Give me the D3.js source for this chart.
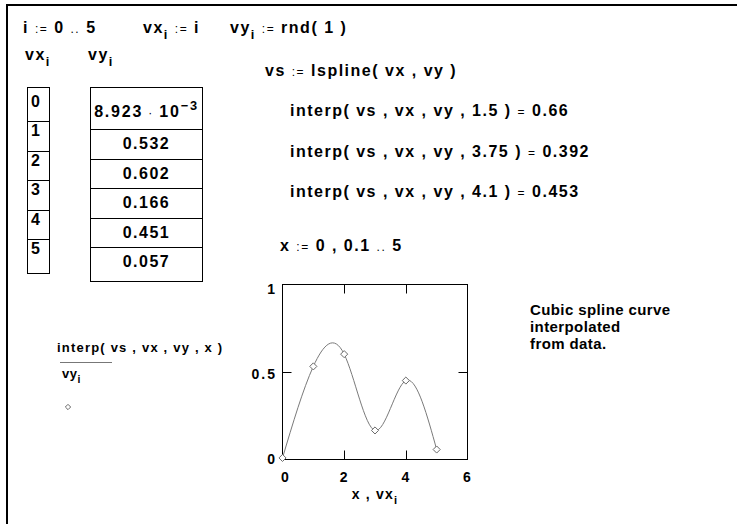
<!DOCTYPE html>
<html><head><meta charset="utf-8">
<script src="https://cdn.jsdelivr.net/npm/d3@7"></script>
<style>
html,body{margin:0;padding:0;background:#fff;}
svg text{font-family:"Liberation Sans",Arial,sans-serif;font-weight:bold;fill:#000;}
</style></head>
<body><svg id="c" width="737" height="524"></svg>
<script>
// ---- data ----
const vx = [0, 1, 2, 3, 4, 5];
const vy = [0.008923, 0.532, 0.602, 0.166, 0.451, 0.057];
const interpArgs = [1.5, 3.75, 4.1];
const interpResults = ["0.66", "0.392", "0.453"];
const xTicks = [0, 2, 4, 6];
const yTicks = [0, 0.5, 1];
const xDomain = [0, 6];
const yDomain = [0, 1];
const noteLines = ["Cubic spline curve", "interpolated", "from data."];

const svg = d3.select("#c");
svg.append("rect").attr("width", 737).attr("height", 524).attr("fill", "#fff");

// frame
svg.append("line").attr("x1", 7).attr("x2", 7).attr("y1", 4).attr("y2", 524).attr("stroke", "#000").attr("stroke-width", 2);
svg.append("line").attr("x1", 6).attr("x2", 737).attr("y1", 5).attr("y2", 5).attr("stroke", "#000").attr("stroke-width", 2);

function mtext(x, y, parts, size, ls) {
  const t = svg.append("text").attr("x", x).attr("y", y)
    .style("font-size", size + "px").style("letter-spacing", (ls == null ? 1.5 : ls) + "px");
  let shift = 0;
  parts.forEach(([s, k]) => {
    const sp = t.append("tspan").text(s);
    let target = 0;
    if (k === "s") { target = size * 0.35; sp.style("font-size", (size * 0.8) + "px"); }
    else if (k === "p") { target = -size * 0.45; sp.style("font-size", (size * 0.8) + "px"); }
    else if (k === "o") { sp.style("font-size", (size * 0.75) + "px").style("font-weight", "normal"); }
    if (target !== shift) { sp.attr("dy", target - shift); shift = target; }
  });
  return t;
}

const F = 16;
mtext(23, 33, [["i ", "n"], [":=", "o"], [" 0 ", "n"], ["..", "o"], [" 5", "n"]], F);
mtext(143, 33, [["vx", "n"], ["i", "s"], [" ", "n"], [":=", "o"], [" i", "n"]], F);
mtext(230, 33, [["vy", "n"], ["i", "s"], [" ", "n"], [":=", "o"], [" rnd( 1 )", "n"]], F);
mtext(25, 60, [["vx", "n"], ["i", "s"]], F);
mtext(88, 60, [["vy", "n"], ["i", "s"]], F);
mtext(265, 76, [["vs ", "n"], [":=", "o"], [" lspline( vx , vy )", "n"]], F);
interpArgs.forEach((a, i) => {
  mtext(290, 116 + i * 40.5, [["interp( vs , vx , vy , " + a + " ) ", "n"], ["=", "o"], ["  " + interpResults[i], "n"]], F);
});
mtext(280, 251, [["x ", "n"], [":=", "o"], [" 0 , 0.1 ", "n"], ["..", "o"], [" 5", "n"]], F);

function rowEdges(top, first, mid, last, n) {
  const e = [top];
  for (let i = 0; i < n; i++) e.push(e[i] + (i === 0 ? first : (i === n - 1 ? last : mid)));
  return e;
}
const vxE = rowEdges(87, 34, 29.5, 34, vx.length);
const vyE = rowEdges(87, 42, 29.5, 34, vy.length);
const tbl = svg.append("g").attr("stroke", "#000").attr("stroke-width", 1).attr("fill", "none");
tbl.append("rect").attr("x", 27.5).attr("y", vxE[0] + 0.5).attr("width", 22).attr("height", vxE[vx.length] - vxE[0]);
vxE.slice(1, -1).forEach(y => tbl.append("line").attr("x1", 27.5).attr("x2", 49.5).attr("y1", Math.round(y) + 0.5).attr("y2", Math.round(y) + 0.5));
tbl.append("rect").attr("x", 90.5).attr("y", vyE[0] + 0.5).attr("width", 112).attr("height", vyE[vy.length] - vyE[0]);
vyE.slice(1, -1).forEach(y => tbl.append("line").attr("x1", 90.5).attr("x2", 202.5).attr("y1", Math.round(y) + 0.5).attr("y2", Math.round(y) + 0.5));

vx.forEach((v, i) => {
  svg.append("text").attr("x", 31).attr("y", vxE[i] + (i === 0 ? 20 : 15))
    .style("font-size", F + "px").text(v);
});
vy.forEach((v, i) => {
  const y = vyE[i] + (i === 0 ? 30 : 20);
  if (v < 0.01) {
    const ex = Math.floor(Math.log10(v));
    const man = (v / Math.pow(10, ex)).toFixed(3);
    const t = mtext(146.5, y, [[man, "n"], [" · ", "o"], ["10", "n"], ["−" + (-ex), "p"]], F, 1.8);
    t.attr("text-anchor", "middle");
  } else {
    svg.append("text").attr("x", 146.5).attr("y", y).attr("text-anchor", "middle")
      .style("font-size", F + "px").style("letter-spacing", "1.5px").text(d3.format(".3f")(v));
  }
});

const x = d3.scaleLinear().domain(xDomain).range([282.5, 467.5]);
const y = d3.scaleLinear().domain(yDomain).range([459.5, 284.5]);
const pg = svg.append("g");
pg.append("rect").attr("x", x(0)).attr("y", y(1)).attr("width", x(6) - x(0)).attr("height", y(0) - y(1))
  .attr("fill", "none").attr("stroke", "#000").attr("stroke-width", 1);
const tl = 9;
xTicks.slice(1, -1).forEach(t => {
  pg.append("line").attr("x1", Math.round(x(t)) + 0.5).attr("x2", Math.round(x(t)) + 0.5).attr("y1", y(0)).attr("y2", y(0) - tl).attr("stroke", "#000");
  pg.append("line").attr("x1", Math.round(x(t)) + 0.5).attr("x2", Math.round(x(t)) + 0.5).attr("y1", y(1)).attr("y2", y(1) + tl).attr("stroke", "#000");
});
yTicks.slice(1, -1).forEach(t => {
  pg.append("line").attr("x1", x(0)).attr("x2", x(0) + tl).attr("y1", Math.round(y(t)) + 0.5).attr("y2", Math.round(y(t)) + 0.5).attr("stroke", "#000");
  pg.append("line").attr("x1", x(6)).attr("x2", x(6) - tl).attr("y1", Math.round(y(t)) + 0.5).attr("y2", Math.round(y(t)) + 0.5).attr("stroke", "#000");
});
xTicks.forEach(t => {
  svg.append("text").attr("x", x(t) + (t === 0 ? 3 : 0)).attr("y", 482).attr("text-anchor", "middle")
    .style("font-size", "14px").style("letter-spacing", "1px").text(t);
});
yTicks.forEach(t => {
  svg.append("text").attr("x", 277).attr("y", y(t) + 4 + 5 * t).attr("text-anchor", "end")
    .style("font-size", "14px").style("letter-spacing", "2px").text(t);
});
mtext(375, 499, [["x , vx", "n"], ["i", "s"]], 14, 1.2).attr("text-anchor", "middle");

const line = d3.line().x(d => x(d[0])).y(d => y(d[1])).curve(d3.curveNatural);
const pts = vx.map((v, i) => [v, vy[i]]);
pg.append("path").attr("d", line(pts)).attr("fill", "none").attr("stroke", "#7a7a7a").attr("stroke-width", 1);
const diamond = d3.symbol().type(d3.symbolDiamond2).size(32);
pg.selectAll(".m").data(pts).join("path")
  .attr("transform", d => `translate(${x(d[0])},${y(d[1])})`)
  .attr("d", diamond).attr("fill", "#fff").attr("stroke", "#6a6a6a").attr("stroke-width", 1);

mtext(57, 352, [["interp( vs , vx , vy , x )", "n"]], 13, 1.2);
svg.append("line").attr("x1", 60).attr("x2", 112).attr("y1", 362.5).attr("y2", 362.5).attr("stroke", "#777");
mtext(62, 378, [["vy", "n"], ["i", "s"]], 13, 0.5);
svg.append("path").attr("transform", "translate(68,407)").attr("d", d3.symbol().type(d3.symbolDiamond2).size(18))
  .attr("fill", "#fff").attr("stroke", "#6a6a6a");

noteLines.forEach((s, i) => {
  svg.append("text").attr("x", 530).attr("y", 315 + i * 17).style("font-size", "15px").style("letter-spacing", "0.4px").text(s);
});
</script></body></html>
